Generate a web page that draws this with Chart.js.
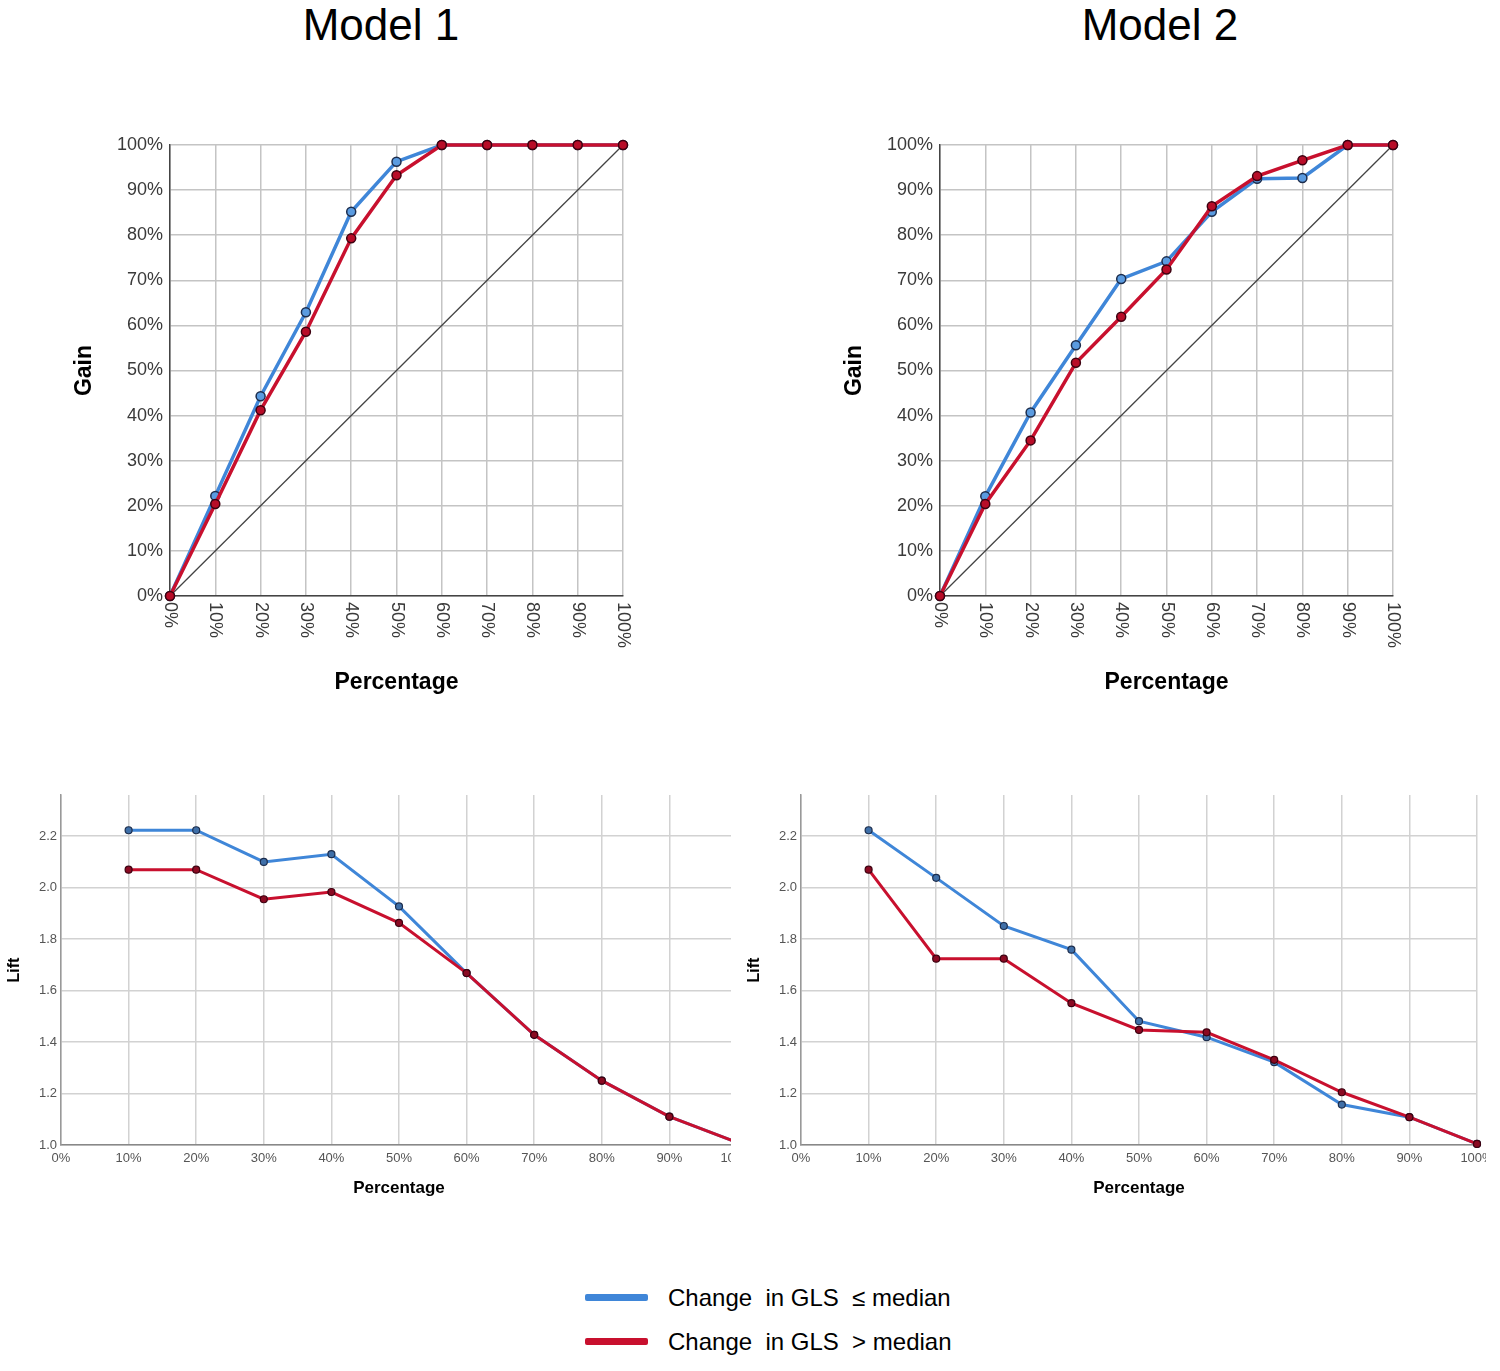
<!DOCTYPE html>
<html>
<head>
<meta charset="utf-8">
<script src="https://cdn.jsdelivr.net/npm/chart.js@4.4.0/dist/chart.umd.min.js"></script>
<style>
  body { margin: 0; width: 1500px; height: 1371px; background: #fff; position: relative; overflow: hidden; font-family: Arial, "Liberation Sans", sans-serif; }
  .title { position: absolute; top: 0; font-size: 44px; color: #000; width: 300px; text-align: center; line-height: 50px; white-space: pre; }
  .box { position: absolute; overflow: hidden; }
  .leg { position: absolute; left: 585px; font-size: 24px; color: #000; white-space: pre; }
  .leg span { display: inline-block; width: 63px; height: 7px; border-radius: 2px; vertical-align: middle; margin-right: 20px; position: relative; top: -2px; }
</style>
</head>
<body>
<div class="title" style="left:231px">Model 1</div>
<div class="title" style="left:1010px">Model 2</div>

<div class="box" style="left:40px;top:120px;width:620px;height:600px"><canvas id="gain1" width="620" height="600"></canvas></div>
<div class="box" style="left:810px;top:120px;width:620px;height:600px"><canvas id="gain2" width="620" height="600"></canvas></div>
<div class="box" style="left:0px;top:780px;width:731px;height:440px"><canvas id="lift1" width="760" height="440"></canvas></div>
<div class="box" style="left:740px;top:780px;width:746px;height:440px"><canvas id="lift2" width="760" height="440"></canvas></div>

<div class="leg" style="top:1284px"><span style="background:#3f86d8"></span>Change  in GLS  ≤ median</div>
<div class="leg" style="top:1328px"><span style="background:#c8102e"></span>Change  in GLS  &gt; median</div>

<script>
// cumulative gain (%), deciles 0..100
const gainX = [0, 10, 20, 30, 40, 50, 60, 70, 80, 90, 100];
const gain1Low = [0, 22.2, 44.3, 62.9, 85.2, 96.3, 100, 100, 100, 100, 100];
const gain1High = [0, 20.4, 41.2, 58.6, 79.3, 93.3, 100, 100, 100, 100, 100];
const gain2Low = [0, 22.1, 40.7, 55.6, 70.3, 74.2, 85.2, 92.5, 92.7, 100, 100];
const gain2High = [0, 20.4, 34.5, 51.7, 61.9, 72.4, 86.4, 93.1, 96.6, 100, 100];
const baselineX = [0, 100];
const baselineY = [0, 100];

// lift, deciles 10..100
const liftX = [10, 20, 30, 40, 50, 60, 70, 80, 90, 100];
const lift1Low = [2.223, 2.223, 2.10, 2.13, 1.927, 1.668, 1.428, 1.25, 1.11, 1.01];
const lift1High = [2.07, 2.07, 1.955, 1.983, 1.863, 1.668, 1.428, 1.25, 1.11, 1.01];
const lift2Low = [2.223, 2.038, 1.851, 1.759, 1.481, 1.419, 1.322, 1.157, 1.108, 1.004];
const lift2High = [2.07, 1.724, 1.724, 1.551, 1.447, 1.438, 1.331, 1.205, 1.108, 1.004];

const percentLabels = ['0%', '10%', '20%', '30%', '40%', '50%', '60%', '70%', '80%', '90%', '100%'];
const liftLabels = ['1.0', '1.2', '1.4', '1.6', '1.8', '2.0', '2.2'];
const seriesNames = ['Change in GLS \u2264 median', 'Change in GLS > median'];

const BLUE = '#3f86d8', RED = '#c8102e';
const FONT = 'Arial, "Liberation Sans", sans-serif';

function pts(xs, ys) {
  return xs.map((x, i) => ({ x: x, y: ys[i] }));
}

// x tick labels turned clockwise, Chart.js only rotates the other way
const rotatedTicks = {
  id: 'rotatedTicks',
  afterDraw(chart, args, opts) {
    const ctx = chart.ctx, xs = chart.scales.x;
    ctx.save();
    ctx.font = opts.font;
    ctx.fillStyle = opts.color;
    ctx.textAlign = 'left';
    ctx.textBaseline = 'middle';
    xs.ticks.forEach((t, i) => {
      ctx.save();
      ctx.translate(xs.getPixelForValue(t.value), chart.chartArea.bottom + opts.padding);
      ctx.rotate(Math.PI / 2);
      ctx.fillText(opts.labels[i], 0, 0);
      ctx.restore();
    });
    ctx.restore();
  }
};

function makeGain(id, low, high) {
  new Chart(document.getElementById(id), {
    type: 'line',
    data: {
      datasets: [
        { data: pts(baselineX, baselineY), borderColor: '#444', borderWidth: 1.3, pointRadius: 0, clip: false, order: 2 },
        { label: seriesNames[0], data: pts(gainX, low), borderColor: BLUE, borderWidth: 3.5, order: 1,
          pointRadius: 4.5, pointBackgroundColor: '#5a9be0', pointBorderColor: '#1c2d4d', pointBorderWidth: 1.5, clip: false },
        { label: seriesNames[1], data: pts(gainX, high), borderColor: RED, borderWidth: 3.5, order: 0,
          pointRadius: 4.5, pointBackgroundColor: '#b80c28', pointBorderColor: '#3d0010', pointBorderWidth: 1.5, clip: false }
      ]
    },
    options: {
      responsive: false,
      animation: false,
      layout: { padding: { left: 0, right: 37, top: 25, bottom: 0 } },
      plugins: {
        legend: { display: false },
        tooltip: { enabled: false },
        rotatedTicks: { labels: percentLabels, font: '18px ' + FONT, color: '#3a3a3a', padding: 6 }
      },
      scales: {
        x: {
          type: 'linear', min: 0, max: 100,
          ticks: { stepSize: 10, display: false },
          grid: { color: '#c4c4c4', lineWidth: 1.5, drawTicks: false },
          border: { color: '#444', width: 1.5 },
          title: { display: true, text: 'Percentage', color: '#000', font: { size: 23, weight: 'bold', family: FONT }, padding: { top: 0, bottom: 24 } },
          afterFit: s => { s.height = 124; }
        },
        y: {
          min: 0, max: 100,
          ticks: { stepSize: 10, padding: 7, color: '#3a3a3a', font: { size: 18, family: FONT }, callback: (v, i) => percentLabels[i] },
          grid: { color: '#c4c4c4', lineWidth: 1.5, drawTicks: false },
          border: { color: '#444', width: 1.5 },
          title: { display: true, text: 'Gain', color: '#000', font: { size: 23, weight: 'bold', family: FONT }, padding: { top: 31, bottom: 0 } },
          afterFit: s => { s.width = 130; }
        }
      }
    },
    plugins: [rotatedTicks]
  });
}

function makeLift(id, low, high) {
  new Chart(document.getElementById(id), {
    type: 'line',
    data: {
      datasets: [
        { label: seriesNames[0], data: pts(liftX, low), borderColor: BLUE, borderWidth: 3, order: 1,
          pointRadius: 3.5, pointBackgroundColor: '#3f6fa8', pointBorderColor: '#1c2d4d', pointBorderWidth: 1.2, clip: false },
        { label: seriesNames[1], data: pts(liftX, high), borderColor: RED, borderWidth: 3, order: 0,
          pointRadius: 3.5, pointBackgroundColor: '#8a0a22', pointBorderColor: '#3d0010', pointBorderWidth: 1.2, clip: false }
      ]
    },
    options: {
      responsive: false,
      animation: false,
      layout: { padding: { left: 0, right: 23, top: 15, bottom: 0 } },
      plugins: { legend: { display: false }, tooltip: { enabled: false } },
      scales: {
        x: {
          type: 'linear', min: 0, max: 100,
          ticks: { stepSize: 10, padding: 6, maxRotation: 0, color: '#555', font: { size: 13, family: FONT }, callback: (v, i) => percentLabels[i] },
          grid: { color: '#d2d2d2', lineWidth: 1.5, drawTicks: false },
          border: { color: '#888', width: 1.5 },
          title: { display: true, text: 'Percentage', color: '#000', font: { size: 17, weight: 'bold', family: FONT }, padding: { top: 0, bottom: 21 } },
          afterFit: s => { s.height = 75; }
        },
        y: {
          min: 1.0, max: 2.36,
          ticks: { stepSize: 0.2, padding: 4, color: '#555', font: { size: 13, family: FONT },
                   callback: v => liftLabels[Math.round((v - 1) / 0.2)] },
          afterBuildTicks: s => { s.ticks = s.ticks.filter(t => t.value <= 2.21); },
          grid: { color: '#d2d2d2', lineWidth: 1.5, drawTicks: false },
          border: { color: '#999', width: 1.5 },
          title: { display: true, text: 'Lift', color: '#000', font: { size: 16, weight: 'bold', family: FONT }, padding: { top: 5, bottom: 0 } },
          afterFit: s => { s.width = 61; }
        }
      }
    }
  });
}

makeGain('gain1', gain1Low, gain1High);
makeGain('gain2', gain2Low, gain2High);
makeLift('lift1', lift1Low, lift1High);
makeLift('lift2', lift2Low, lift2High);
</script>
</body>
</html>
